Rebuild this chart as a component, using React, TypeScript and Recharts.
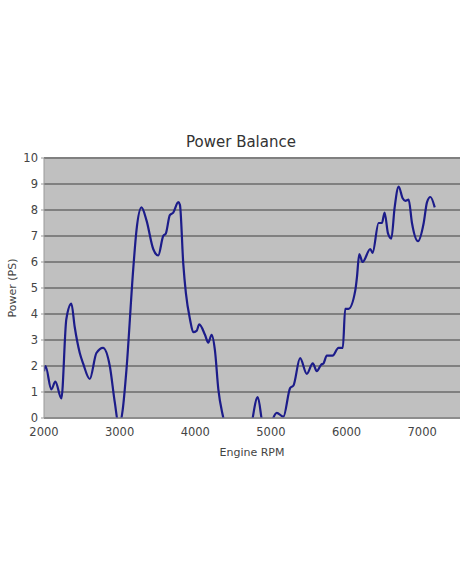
import { LineChart, Line, XAxis, YAxis, CartesianGrid, Label } from "recharts";

const rpm = [
  2000, 2020, 2097, 2150, 2230, 2295, 2362, 2406, 2473, 2517, 2605, 2693, 2780, 2870, 2936, 2990, 3040, 3090,
  3179, 3222, 3289, 3355, 3444, 3510, 3576, 3611, 3664, 3709, 3775, 3797, 3841, 3876, 3930, 3974, 4017, 4053,
  4128, 4172, 4216, 4260, 4305, 4371, 4450, 4600, 4720, 4826, 4900, 4970, 5077, 5165, 5254, 5298, 5386, 5474,
  5554, 5607, 5664, 5695, 5739, 5815, 5894, 5951, 5982, 6026, 6115, 6137, 6168, 6212, 6314, 6344, 6424, 6468,
  6503, 6548, 6592, 6636, 6689, 6742, 6777, 6821, 6865, 6945, 7020, 7064, 7109, 7166,
];
const power = [
  1.8, 2.0, 1.1, 1.4, 0.75, 3.8, 4.4, 3.5, 2.5, 2.1, 1.5, 2.5, 2.7, 2.0, 0.6, -0.3, 0.3, 1.85,
  5.7, 7.2, 8.1, 7.6, 6.5, 6.25, 7.0, 7.1, 7.8, 7.9, 8.3, 8.2, 5.95, 4.8, 3.8, 3.3, 3.35, 3.6,
  3.2, 2.9, 3.2, 2.6, 1.1, 0, -1.0, -1.5, -0.6, 0.8, -0.3, -0.3, 0.2, 0.05, 1.15, 1.25, 2.3, 1.7,
  2.1, 1.8, 2.05, 2.1, 2.4, 2.4, 2.7, 2.7, 4.2, 4.2, 4.9, 5.4, 6.3, 6.0, 6.5, 6.35, 7.5, 7.5,
  7.9, 7.1, 6.9, 8.1, 8.9, 8.45, 8.35, 8.4, 7.5, 6.8, 7.5, 8.3, 8.5, 8.1,
];
const xTicks = [2000, 3000, 4000, 5000, 6000, 7000];
const yTicks = [0, 1, 2, 3, 4, 5, 6, 7, 8, 9, 10];

const data = rpm.map((r, i) => ({ rpm: r, power: power[i] }));

const font = "'DejaVu Sans', Verdana, sans-serif";

export default function App() {
  return (
    <div style={{ position: "absolute", left: 0, top: 0, width: 470, height: 588, background: "#fff", fontFamily: font }}>
      <div style={{ position: "absolute", top: 133, left: 6, width: 470, textAlign: "center", fontSize: 15, color: "#333" }}>
        Power Balance
      </div>
      <LineChart width={470} height={588} data={data} margin={{ top: 158, right: 10, bottom: 128, left: 0 }}>
        <CartesianGrid vertical={false} stroke="#808080" strokeWidth={2} fill="#c0c0c0" />
        <XAxis
          dataKey="rpm"
          type="number"
          domain={[2000, 7500]}
          ticks={xTicks}
          allowDataOverflow
          stroke="#999"
          tickLine={false}
          tickMargin={4}
          height={42}
          tick={{ fill: "#444", fontSize: 11.5, fontFamily: font }}
        >
          <Label value="Engine RPM" position="insideBottom" offset={4} style={{ fill: "#444", fontSize: 11, fontFamily: font }} />
        </XAxis>
        <YAxis
          type="number"
          domain={[0, 10]}
          ticks={yTicks}
          allowDataOverflow
          stroke="#999"
          tickSize={3}
          tickMargin={3}
          width={44}
          tick={{ fill: "#444", fontSize: 11.5, fontFamily: font }}
        >
          <Label value="Power (PS)" angle={-90} position="insideLeft" offset={12} style={{ textAnchor: "middle", fill: "#444", fontSize: 11, fontFamily: font }} />
        </YAxis>
        <Line
          type="monotone"
          dataKey="power"
          stroke="#1c1c8a"
          strokeWidth={2.2}
          dot={false}
          isAnimationActive={false}
        />
      </LineChart>
    </div>
  );
}
